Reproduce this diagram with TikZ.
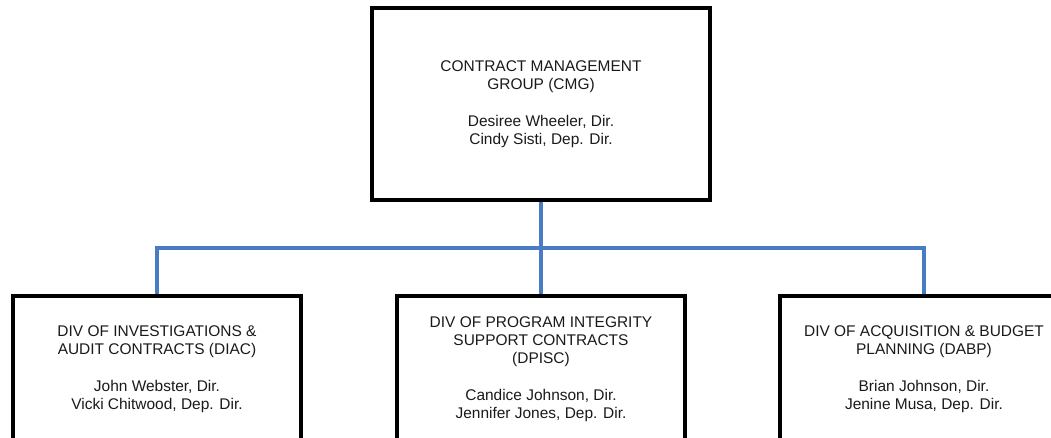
\documentclass[tikz,border=0pt]{standalone}
\usepackage{fontspec}
\setmainfont{Liberation Sans}
\usepackage{xcolor}
\usepackage{tikz}
\usetikzlibrary{positioning,calc}
\definecolor{cInk}{HTML}{1A1A1A}
\definecolor{cBlue}{HTML}{4A7CC6}
\tikzset{
  obox/.style={draw=black,fill=white,line width=2.4pt,align=center,text=cInk,inner sep=0pt,
    font=\fontsize{11.6}{13.5}\selectfont},
  topbox/.style={obox,minimum width=253.5pt,minimum height=144pt},
  divbox/.style={obox,minimum width=216pt,minimum height=109.5pt},
  conn/.style={draw=cBlue,line width=2.4pt},
}

\begin{document}
\begin{tikzpicture}[x=0.75pt,y=-0.75pt]
    \useasboundingbox (0,0) rectangle (1051,438);
    \clip (0,0) rectangle (1051,438);
    \node[topbox] (cmg) at (541,104) {CONTRACT MANAGEMENT\\GROUP (CMG)\\[14pt] Desiree Wheeler, Dir.\\Cindy Sisti, Dep. Dir.};
    \node[divbox] (diac)  at (157,369) {DIV OF INVESTIGATIONS \&\\AUDIT CONTRACTS (DIAC)\\[14pt] John Webster, Dir.\\Vicki Chitwood, Dep. Dir.};
    \node[divbox] (dpisc) at (541,369) {DIV OF PROGRAM INTEGRITY\\SUPPORT CONTRACTS\\(DPISC)\\[14pt] Candice Johnson, Dir.\\Jennifer Jones, Dep. Dir.};
    \node[divbox] (dabp)  at (924,369) {DIV OF ACQUISITION \& BUDGET\\PLANNING (DABP)\\[14pt] Brian Johnson, Dir.\\Jenine Musa, Dep. Dir.};
    % blue bus between the levels
    \coordinate (bus) at (541,248);
    \draw[conn] (cmg.south) -- (bus);
    \draw[conn] (diac.north) |- (bus) -| (dabp.north);
    \draw[conn] (bus) -- (dpisc.north);
  \end{tikzpicture}
\end{document}
